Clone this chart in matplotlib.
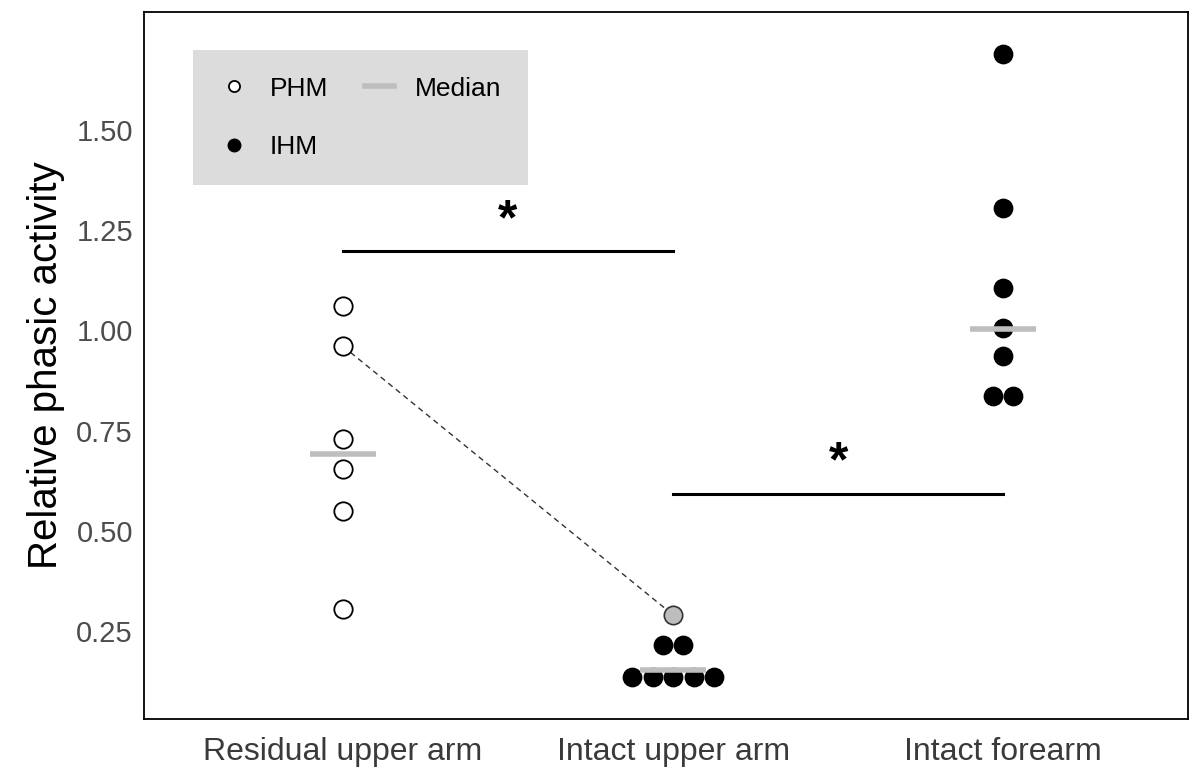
import numpy as np
import matplotlib
matplotlib.use("Agg")
import matplotlib.pyplot as plt
from matplotlib.lines import Line2D

plt.rcParams['font.family'] = ['Liberation Sans', 'DejaVu Sans']

categories = ["Residual upper arm", "Intact upper arm", "Intact forearm"]
residual_phm = [1.06, 0.96, 0.73, 0.655, 0.55, 0.305]
upper_ihm = [0.215, 0.215, 0.135, 0.135, 0.135, 0.135, 0.135]
upper_phm = [0.29]
forearm_ihm = [1.69, 1.305, 1.105, 1.005, 0.935, 0.835, 0.835]
medians = [0.692, 0.152, 1.003]
sig_bars = [(1, 2, 1.198), (2, 3, 0.592)]
yticks = [0.25, 0.50, 0.75, 1.00, 1.25, 1.50]

dot_gap = 0.062  # horizontal step between stacked dots


def stack_x(center, values):
    # side by side placement of equal values, like a dot plot
    values = np.asarray(values)
    xs = np.zeros(len(values))
    for v in np.unique(values):
        idx = np.where(values == v)[0]
        n = len(idx)
        xs[idx] = center + (np.arange(n) - (n - 1) / 2) * dot_gap
    return xs


fig = plt.figure(figsize=(11.97, 7.69), dpi=100)
ax = fig.add_axes([0.1203, 0.065, 0.8722, 0.9194])

ms = 175
ax.scatter(stack_x(1, residual_phm), residual_phm, s=ms, facecolor="white",
           edgecolor="black", linewidth=1.3, zorder=3)
ax.scatter(stack_x(2, upper_ihm), upper_ihm, s=ms, facecolor="black",
           edgecolor="black", linewidth=1, zorder=3)
ax.scatter(stack_x(2, upper_phm), upper_phm, s=ms, facecolor="#bdbdbd",
           edgecolor="#333333", linewidth=1.2, zorder=3)
ax.scatter(stack_x(3, forearm_ihm), forearm_ihm, s=ms, facecolor="black",
           edgecolor="black", linewidth=1, zorder=3)

# paired participant
ax.plot([1, 2], [residual_phm[1], upper_phm[0]], ls=(0, (4, 3)), lw=1,
        color="#333333", zorder=2)

for i, m in enumerate(medians):
    ax.plot([i + 1 - 0.1, i + 1 + 0.1], [m, m], color="#bebebe", lw=4,
            solid_capstyle="butt", zorder=4)

for x0, x1, y in sig_bars:
    ax.plot([x0, x1], [y, y], color="black", lw=2.2, zorder=2)
    ax.text((x0 + x1) / 2, y + 0.075, "*", ha="center", va="center",
            fontsize=36, color="black", fontweight="bold")

ax.set_xlim(0.397, 3.56)
ax.set_ylim(0.0304, 1.794)
ax.set_xticks([1, 2, 3])
ax.set_xticklabels(categories, fontsize=23, color="#3a3a3a")
ax.set_yticks(yticks)
ax.set_yticklabels([f"{t:.2f}" for t in yticks], fontsize=21, color="#4d4d4d")
ax.tick_params(length=0, pad=8)
ax.tick_params(axis="x", pad=13)
ax.set_ylabel("Relative phasic activity", fontsize=29, labelpad=8)
for sp in ax.spines.values():
    sp.set_linewidth(1.3)
    sp.set_color("black")

handles = [
    Line2D([], [], marker="o", ls="none", markersize=8, markerfacecolor="white",
           markeredgecolor="black", markeredgewidth=1.3, label="PHM"),
    Line2D([], [], marker="o", ls="none", markersize=9, markerfacecolor="black",
           markeredgecolor="black", label="IHM"),
    Line2D([], [], color="#bebebe", lw=4, label="Median"),
]
leg = ax.legend(handles=handles, ncol=2, loc="upper left",
                bbox_to_anchor=(0.047, 0.946), fontsize=19, frameon=True,
                fancybox=False, borderpad=1.0, labelspacing=1.3,
                handlelength=1.1, handletextpad=0.8, columnspacing=1.4,
                borderaxespad=0)
leg.get_frame().set_facecolor("#dcdcdc")
leg.get_frame().set_edgecolor("none")
leg.get_frame().set_alpha(1)

fig.savefig("out.png", dpi=100)
